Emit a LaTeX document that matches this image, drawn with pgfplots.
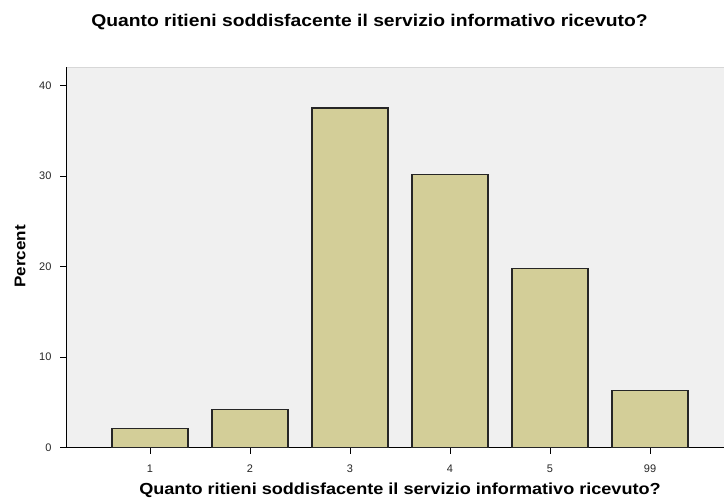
\documentclass[border=0pt]{standalone}
\usepackage{pgfplots}
\pgfplotsset{compat=1.18}
\usepackage{fontspec}
\setmainfont{Liberation Sans}
\definecolor{barfill}{RGB}{211,206,152}
\definecolor{bg}{RGB}{240,240,240}
\definecolor{bgline}{RGB}{215,215,215}
\begin{document}
\begin{tikzpicture}[x=1pt,y=1pt]
\path[use as bounding box] (0,0) rectangle (724,498);
\begin{axis}[
  at={(66pt,50.3pt)}, anchor=south west,
  width=658pt, height=380.4pt, scale only axis,
  xmin=-0.84, xmax=5.74, ymin=0, ymax=42,
  axis background/.style={fill=bg, draw=bgline, line width=0.8pt},
  axis x line*=bottom, axis y line*=left,
  axis line style={-, black, line width=1pt},
  xtick={0,1,2,3,4,5}, xticklabels={1,2,3,4,5,99},
  ytick={0,10,20,30,40},
  tick align=outside, major tick length=6pt,
  tick style={black, line width=0.9pt},
  ticklabel style={font=\fontsize{11}{11}\selectfont, text=black!85},
  /pgf/number format/assume math mode=true,
  xticklabel style={yshift=-8pt},
  yticklabel style={xshift=-5pt},
  clip=false,
]
\addplot[ybar, bar width=0.76, fill=barfill, draw=black!85, line width=1.2pt] coordinates {
  (0,2.1) (1,4.2) (2,37.5) (3,30.2) (4,19.8) (5,6.3)
};
\end{axis}
\node[anchor=base, font=\bfseries\fontsize{17}{17}\selectfont, xscale=1.135] at (369.5,471) {Quanto ritieni soddisfacente il servizio informativo ricevuto?};
\node[anchor=base, font=\bfseries\fontsize{16}{16}\selectfont, xscale=1.13] at (400,3) {Quanto ritieni soddisfacente il servizio informativo ricevuto?};
\node[rotate=90, font=\bfseries\fontsize{15.5}{16}\selectfont, xscale=1.1] at (20,241.5) {Percent};
\end{tikzpicture}
\end{document}
